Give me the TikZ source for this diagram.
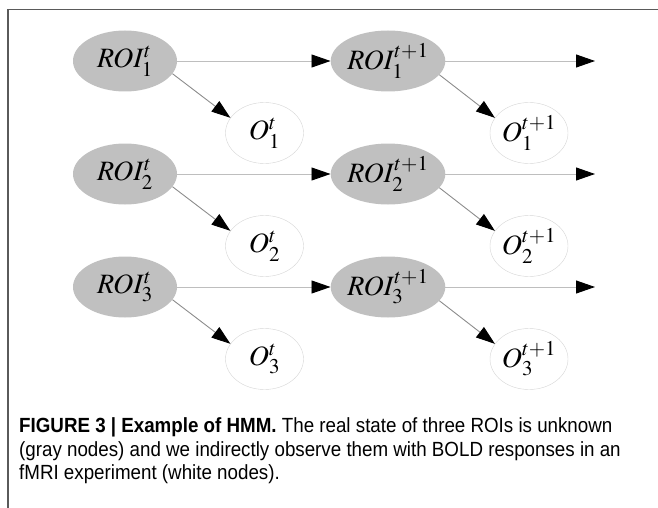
\documentclass[tikz,border=0pt]{standalone}
\usepackage{mathptmx}
\usepackage[no-math]{fontspec}
\setmainfont{Liberation Sans}[FakeStretch=0.915]
\usetikzlibrary{shapes.geometric,arrows.meta}
\DeclareMathSizes{28}{28}{21}{16}

\definecolor{roigray}{RGB}{192,192,192}
\definecolor{obsline}{RGB}{214,214,214}
\definecolor{flowgray}{RGB}{190,190,190}
\definecolor{emitgray}{RGB}{140,140,140}
\definecolor{framegray}{RGB}{90,90,90}

\def \roiWidth {104pt}
\def \obsWidth {78pt}
\def \nodeHeight {61pt}
\def \tipSize {Triangle[length=19pt,width=13pt,color=black]}

\begin{document}
\begin{tikzpicture}[x=1pt,y=-1pt,
         hidden/.style={ellipse, fill=roigray, minimum width=\roiWidth, minimum height=\nodeHeight, inner sep=0pt, font=\fontsize{28}{32}\selectfont},
         seen/.style={ellipse, draw=obsline, fill=white, minimum width=\obsWidth, minimum height=\nodeHeight, inner sep=0pt, font=\fontsize{28}{32}\selectfont},
         flow/.style={draw=flowgray, line width=0.9pt, -{\tipSize}},
         emit/.style={draw=emitgray, line width=0.9pt, -{\tipSize}},
         caption/.style={anchor=base west, inner sep=0pt, font=\fontsize{20.5}{24}\selectfont}]
         \useasboundingbox (0,0) rectangle (658,508);
         \draw[framegray, line width=1.6pt] (8,508) -- (8,9.5) -- (658,9.5);

         \node[hidden] (roi1t) at (125,61) {$ROI^t_1$};
         \node[hidden] (roi2t) at (125,174) {$ROI^t_2$};
         \node[hidden] (roi3t) at (125,287) {$ROI^t_3$};
         \node[seen] (obs1t) at (264.5,133) {$O^t_1$};
         \node[seen] (obs2t) at (264.5,246) {$O^t_2$};
         \node[seen] (obs3t) at (264.5,359) {$O^t_3$};

         \node[hidden] (roi1n) at (388,61) {$ROI^{t+1}_1$};
         \node[hidden] (roi2n) at (388,174) {$ROI^{t+1}_2$};
         \node[hidden] (roi3n) at (388,287) {$ROI^{t+1}_3$};
         \node[seen] (obs1n) at (529,133) {$O^{t+1}_1$};
         \node[seen] (obs2n) at (529,246) {$O^{t+1}_2$};
         \node[seen] (obs3n) at (529,359) {$O^{t+1}_3$};

         \coordinate (end1) at (595,61);
         \coordinate (end2) at (595,174);
         \coordinate (end3) at (595,287);

         \draw[flow] (roi1t) -- (roi1n);
         \draw[flow] (roi2t) -- (roi2n);
         \draw[flow] (roi3t) -- (roi3n);
         \draw[flow] (roi1n) -- (end1);
         \draw[flow] (roi2n) -- (end2);
         \draw[flow] (roi3n) -- (end3);

         \draw[emit] (roi1t.-15) -- (obs1t.156);
         \draw[emit] (roi2t.-15) -- (obs2t.156);
         \draw[emit] (roi3t.-15) -- (obs3t.156);
         \draw[emit] (roi1n.-15) -- (obs1n.156);
         \draw[emit] (roi2n.-15) -- (obs2n.156);
         \draw[emit] (roi3n.-15) -- (obs3n.156);

         \node[caption] (cap1) at (19,432) {\textbf{FIGURE 3 | Example of HMM.} The real state of three ROIs is unknown};
         \node[caption] (cap2) at (19,456) {(gray nodes) and we indirectly observe them with BOLD responses in an};
         \node[caption] (cap3) at (19,479.5) {fMRI experiment (white nodes).};
      \end{tikzpicture}
\end{document}
